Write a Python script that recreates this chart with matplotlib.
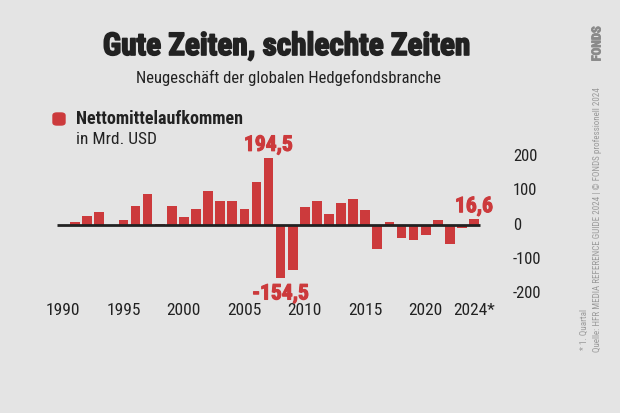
import matplotlib
matplotlib.use("Agg")
import matplotlib.pyplot as plt
import matplotlib.patheffects as pe
from matplotlib import font_manager as fm
from matplotlib.patches import FancyBboxPatch

# data, in Mrd. USD
years = list(range(1990, 2025))
values = [0, 8, 27, 37, -1, 14, 56, 90, 4, 55,
          23, 46, 98, 69, 71, 46, 125, 194.5, -154.5, -131,
          53, 69, 33, 63, 74, 43, -70, 9, -38, -43,
          -30, 14, -55, -10, 16.6]
tick_years = [1990, 1995, 2000, 2005, 2010, 2015, 2020, 2024]
tick_labels = ["1990", "1995", "2000", "2005", "2010", "2015", "2020", "2024*"]
y_ticks = [200, 100, 0, -100, -200]
callouts = {2007: "194,5", 2008: "-154,5", 2024: "16,6"}

names = {f.name for f in fm.fontManager.ttflist}
font = "Roboto Condensed" if "Roboto Condensed" in names else "DejaVu Sans"
plt.rcParams["font.family"] = [font, "DejaVu Sans"]

BG = "#e4e4e4"
RED = "#cc3a3c"
INK = "#222222"
GREY = "#9a9a9a"

fig = plt.figure(figsize=(6.2, 4.13), dpi=100, facecolor=BG)
ax = fig.add_axes([50 / 620, 103 / 413, 440 / 620, 170 / 413])
ax.set_facecolor(BG)
ax.set_xlim(1988.925, 2025.32)
ax.set_ylim(-246.4, 246.4)
for s in ax.spines.values():
    s.set_visible(False)
ax.tick_params(length=0)
ax.set_yticks([])

ax.bar(years, values, width=0.8, color=RED, zorder=2)
ax.hlines(0, 1989.5, 2024.5, color=INK, lw=2, zorder=3)

ax.set_xticks(tick_years)
ax.set_xticklabels(tick_labels, fontsize=12.5, color=INK)
ax.tick_params(axis="x", pad=-5)

for v in y_ticks:
    ax.text(1.052, v, str(v), transform=ax.get_yaxis_transform(),
            ha="left", va="center", fontsize=12, color=INK)

for yr, lab in callouts.items():
    v = values[years.index(yr)]
    off = 1.5 if v >= 0 else -3
    ax.annotate(lab, (yr, v), xytext=(0, off), textcoords="offset points",
                ha="center", va="bottom" if v >= 0 else "top",
                fontsize=15.5, fontweight="bold", color=RED,
                path_effects=[pe.withStroke(linewidth=0.8, foreground=RED)])

fig.text(287 / 620, 1 - 46 / 413, "Gute Zeiten, schlechte Zeiten", ha="center", va="center",
         fontsize=22.5, fontweight="bold", color=INK,
         path_effects=[pe.withStroke(linewidth=1.2, foreground=INK)])
fig.text(288 / 620, 1 - 78 / 413, "Neugeschäft der globalen Hedgefondsbranche", ha="center",
         va="center", fontsize=12, color=INK)

fig.patches.append(FancyBboxPatch((53 / 620, 1 - 125 / 413), 12 / 620, 12 / 413,
                                  boxstyle="round,pad=0,rounding_size=0.006",
                                  transform=fig.transFigure, color=RED))
fig.text(76 / 620, 1 - 119 / 413, "Nettomittelaufkommen", ha="left", va="center",
         fontsize=13, fontweight="bold", color=INK)
fig.text(76 / 620, 1 - 140 / 413, "in Mrd. USD", ha="left", va="center",
         fontsize=12.5, color=INK)

fig.text(584 / 620, 1 - 350 / 413, "* 1. Quartal", rotation=90, ha="center", va="bottom",
         fontsize=6.5, color=GREY)
fig.text(597 / 620, 1 - 352 / 413,
         "Quelle: HFR MEDIA REFERENCE GUIDE 2024 | © FONDS professionell 2024",
         rotation=90, ha="center", va="bottom", fontsize=6.5, color=GREY)
fig.text(597 / 620, 1 - 26 / 413, "FONDS", rotation=90, ha="center", va="top",
         fontsize=9, fontweight="bold", color="#8a8a8a",
         path_effects=[pe.withStroke(linewidth=0.6, foreground="#8a8a8a")])

fig.savefig("out.png", dpi=100, facecolor=BG)
